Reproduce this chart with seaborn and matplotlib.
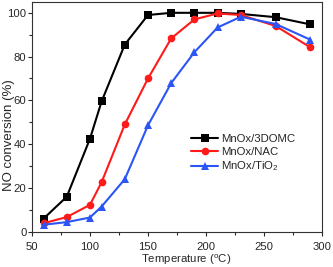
import matplotlib
matplotlib.use("Agg")
import matplotlib.pyplot as plt
import seaborn as sns
import pandas as pd
from matplotlib.ticker import MultipleLocator

temps = [60, 80, 100, 110, 130, 150, 170, 190, 210, 230, 260, 290]
mnox_3domc = [6, 16, 42.5, 59.5, 85.5, 99, 100, 100, 100, 99.5, 98, 94.7]
mnox_nac = [3.9, 6.7, 12.3, 22.6, 49, 70, 88.3, 97, 99.7, 99, 94, 84.2]
mnox_tio2 = [3.2, 4.4, 6.5, 11.5, 24, 48.6, 67.9, 82, 93.3, 98.2, 94.9, 87.7]
labels = ["MnOx/3DOMC", "MnOx/NAC", "MnOx/TiO$_2$"]

frames = []
for lab, vals in zip(labels, [mnox_3domc, mnox_nac, mnox_tio2]):
    frames.append(pd.DataFrame({"Temperature": temps, "Conversion": vals, "Sample": lab}))
df = pd.concat(frames, ignore_index=True)

sns.set_style("ticks")
plt.rcParams['font.family'] = ['Liberation Sans', 'DejaVu Sans']
plt.rcParams['mathtext.fontset'] = 'custom'
plt.rcParams['mathtext.rm'] = 'Liberation Sans'

fig = plt.figure(figsize=(3.33, 2.67), dpi=100)
ax = fig.add_axes([0.096, 0.132, 0.871, 0.861])

palette = {labels[0]: "black", labels[1]: "#ff1a1a", labels[2]: "#2b55f5"}
markers = {labels[0]: "s", labels[1]: "o", labels[2]: "^"}
sns.lineplot(data=df, x="Temperature", y="Conversion", hue="Sample", style="Sample",
             palette=palette, markers=markers, dashes=False, linewidth=1.5,
             markersize=5.5, markeredgewidth=0, ax=ax)

ax.set_xlim(50, 300)
ax.set_ylim(0, 105)
ax.xaxis.set_major_locator(MultipleLocator(50))
ax.xaxis.set_minor_locator(MultipleLocator(25))
ax.yaxis.set_major_locator(MultipleLocator(20))
ax.yaxis.set_minor_locator(MultipleLocator(10))
ax.tick_params(which='major', direction='out', length=3, width=0.8, labelsize=8.1)
ax.tick_params(axis='x', which='major', pad=4.5)
ax.tick_params(axis='y', which='major', pad=1)
ax.tick_params(which='minor', direction='out', length=2, width=0.8)
for s in ax.spines.values():
    s.set_linewidth(0.8)
    s.set_color('#333333')
ax.set_xlabel("Temperature ($^{\\mathregular{o}}$C)", fontsize=8.2)
ax.set_ylabel("NO conversion (%)", fontsize=9.5)
ax.xaxis.set_label_coords(0.53, -0.09)
ax.yaxis.set_label_coords(-0.059, 0.42)

leg = ax.legend(loc='center left', bbox_to_anchor=(0.55, 0.34), frameon=False,
                fontsize=8.2, handlelength=2.3, handletextpad=0.3, labelspacing=0.25,
                borderpad=0, borderaxespad=0, title=None)

fig.savefig("out.png", dpi=100)
